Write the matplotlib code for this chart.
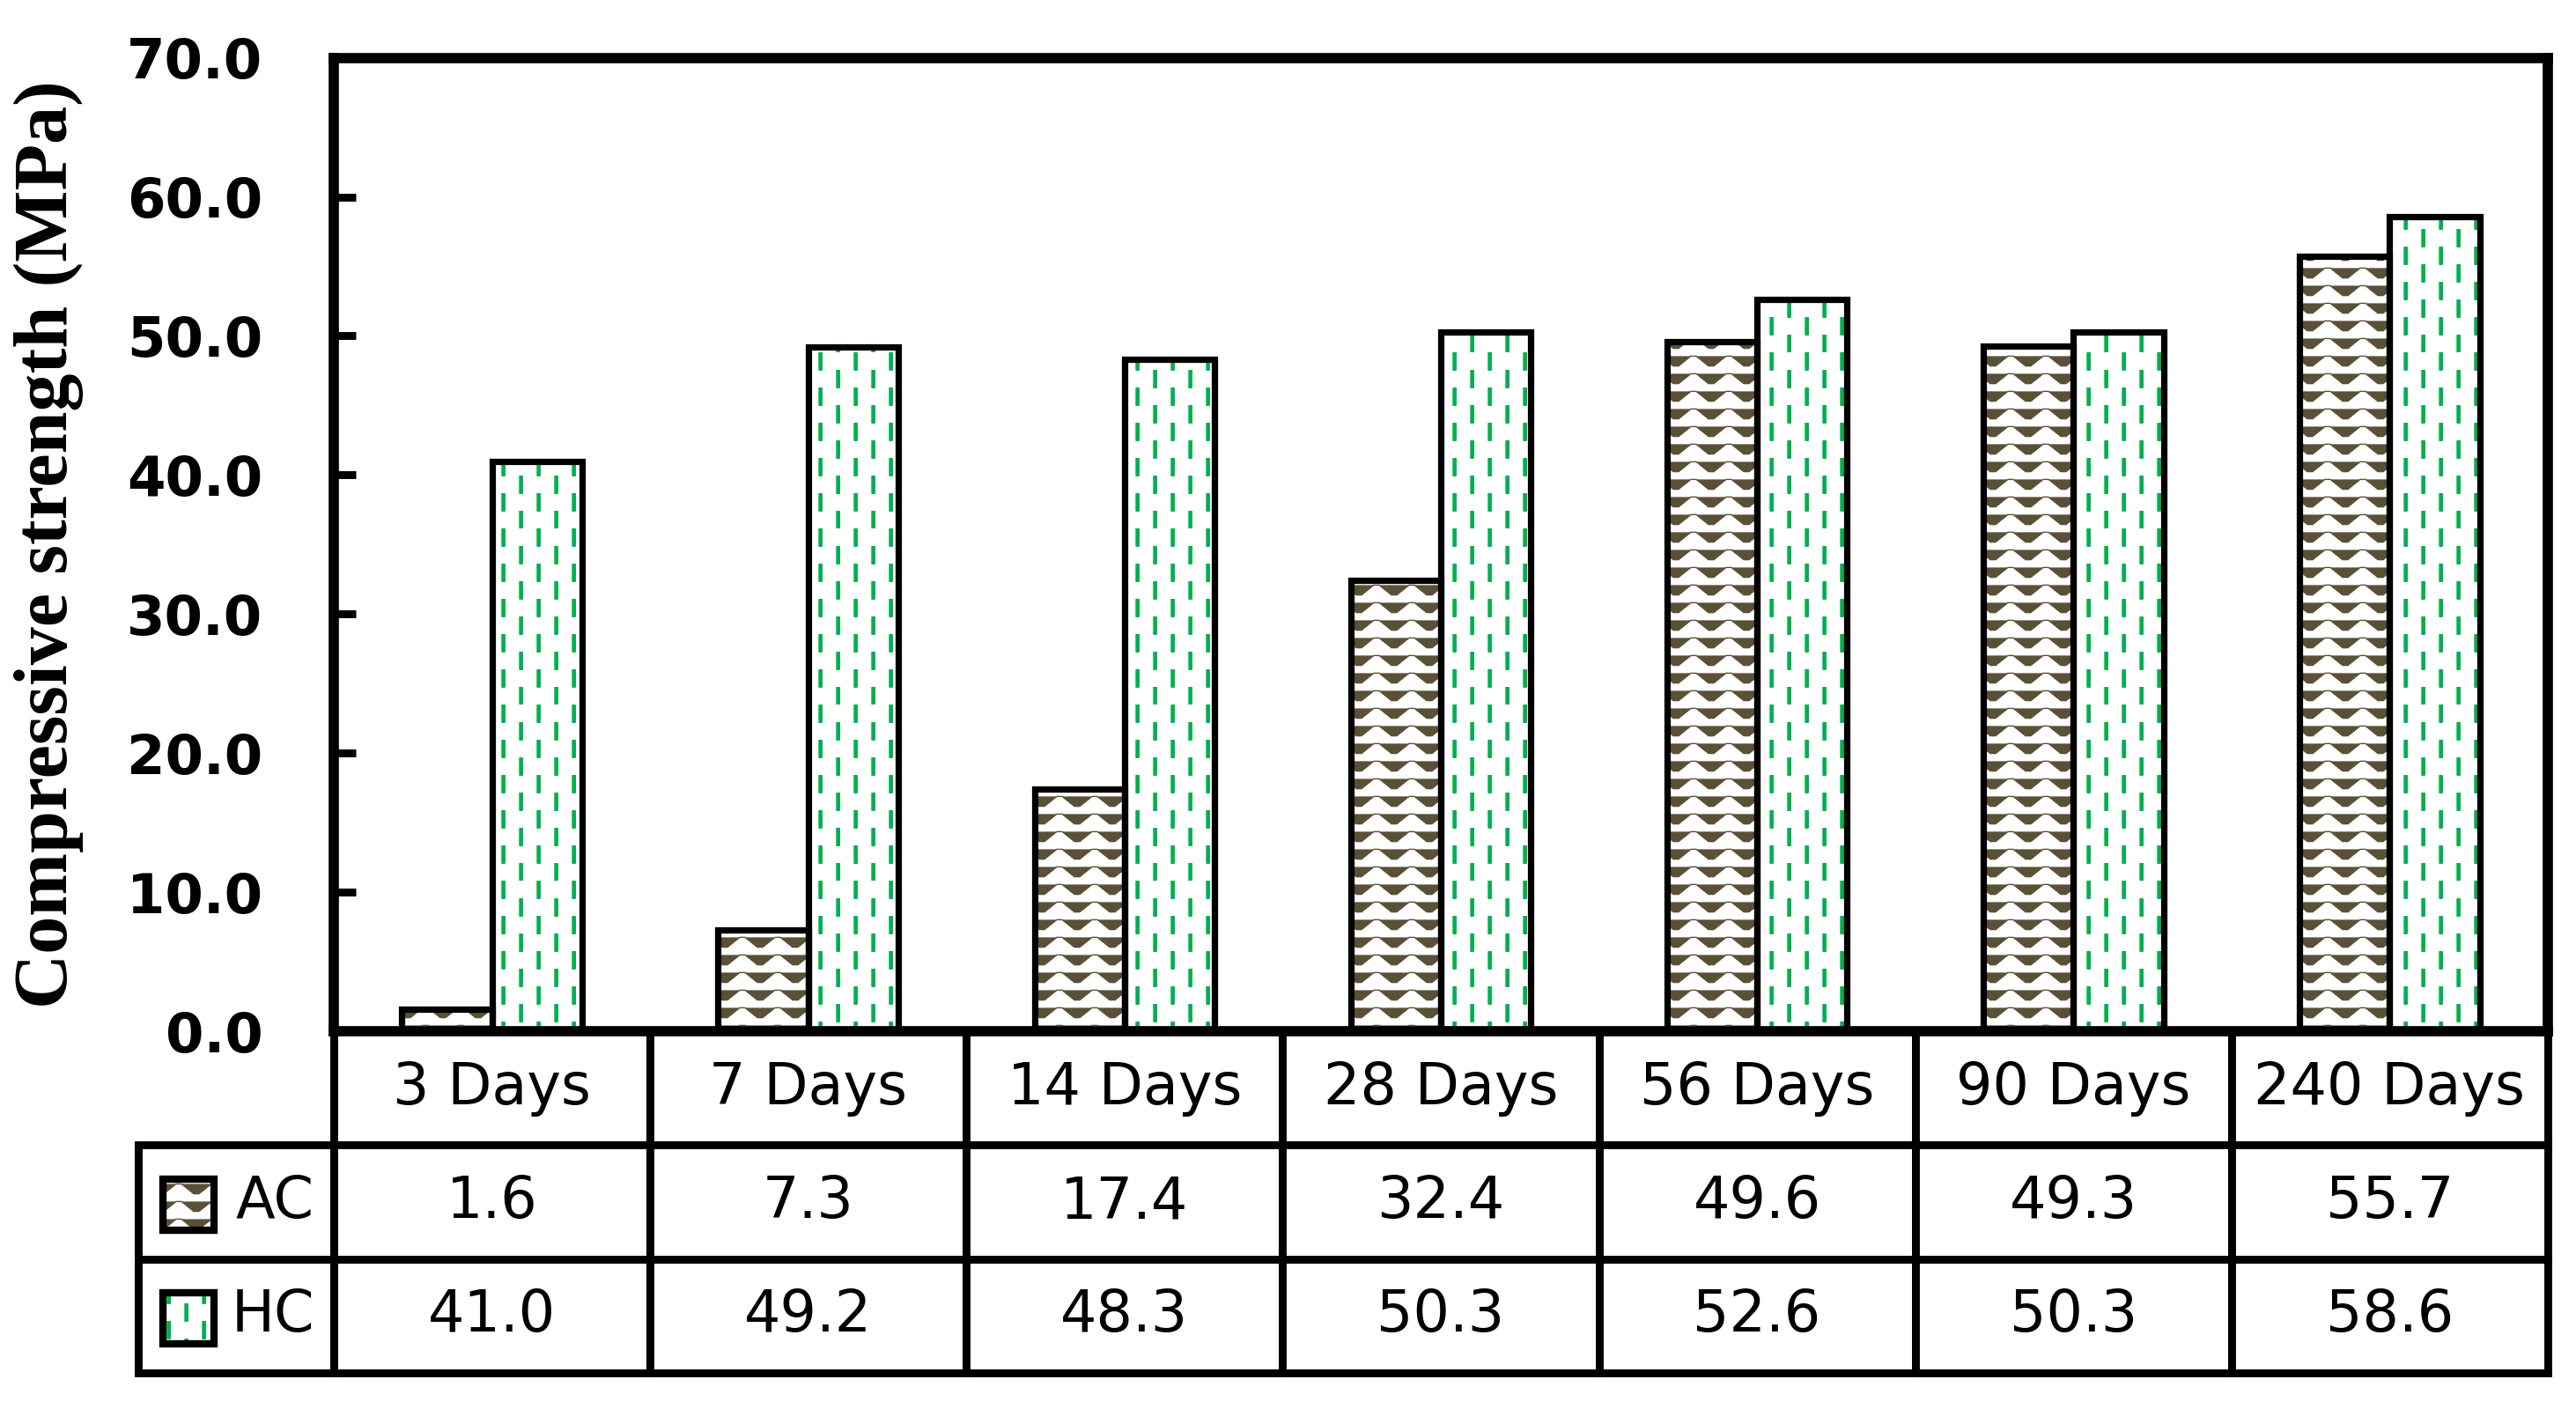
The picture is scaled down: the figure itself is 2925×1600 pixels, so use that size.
"""Compressive strength of AC and HC mixes with a data table under the bars"""
import warnings
import numpy as np
import matplotlib
matplotlib.use('Agg')
import matplotlib.pyplot as plt
import matplotlib.hatch as mhatch
from matplotlib.path import Path
from matplotlib.patches import Rectangle

warnings.filterwarnings('ignore')

categories = ['3 Days', '7 Days', '14 Days', '28 Days', '56 Days', '90 Days', '240 Days']
series_names = ['AC', 'HC']
ac_values = [1.6, 7.3, 17.4, 32.4, 49.6, 49.3, 55.7]
hc_values = [41.0, 49.2, 48.3, 50.3, 52.6, 50.3, 58.6]
yticks = [0, 10, 20, 30, 40, 50, 60, 70]

AC_COLOR = '#5a5038'
HC_COLOR = '#00b050'


class WaveHatch(mhatch.HatchPatternBase):
    """rows of small waves (AC)"""
    def __init__(self, hatch, density):
        self.rows = hatch.count('~') * 10
        self.periods = 5
        self.num_vertices = self.rows * (self.periods * 4 + 1)

    def set_vertices_and_codes(self, vertices, codes):
        n = self.periods * 4 + 1
        frac = np.array([0.0, 0.15, 0.5, 0.65])
        xs = np.concatenate([(p + frac) / self.periods for p in range(self.periods)] + [[1.0]])
        amp = 0.028
        shape = np.array([1, 1, -1, -1] * self.periods + [1], dtype=float)
        for i in range(self.rows):
            y = (i + 0.5) / self.rows
            vertices[i * n:(i + 1) * n, 0] = xs
            vertices[i * n:(i + 1) * n, 1] = y + amp * shape
            codes[i * n] = Path.MOVETO
            codes[i * n + 1:(i + 1) * n] = Path.LINETO


class DashHatch(mhatch.HatchPatternBase):
    """vertical dashed lines, every other column shifted (HC)"""
    def __init__(self, hatch, density):
        self.cols = hatch.count('!') * 10
        self.dashes = 5
        self.thick = 5  # parallel strokes per dash to make it heavier
        self.num_vertices = self.cols * (self.dashes + 1) * 2 * self.thick

    def set_vertices_and_codes(self, vertices, codes):
        k = 0
        step = 1.0 / self.dashes
        for c in range(self.cols):
            x = (c + 0.5) / self.cols
            off = 0.0 if c % 2 == 0 else step / 2
            for d in range(self.dashes + 1):
                y0 = d * step + off - step / 2
                y1 = y0 + step * 0.48
                y0, y1 = max(y0, 0.0), min(max(y1, 0.0), 1.0)
                for t in range(self.thick):
                    xx = x + t * 0.004
                    vertices[k] = (xx, y0)
                    vertices[k + 1] = (xx, y1)
                    codes[k] = Path.MOVETO
                    codes[k + 1] = Path.LINETO
                    k += 2


mhatch._hatch_types.append(WaveHatch)
mhatch._hatch_types.append(DashHatch)

plt.rcParams['hatch.linewidth'] = 0.5

fig = plt.figure(figsize=(14.625, 8), dpi=200)
ax = fig.add_axes([0.1296, 0.268, 0.8594, 0.691])

x = np.arange(len(categories))
width = 0.285

# hatched fill first, then the black outline on top
ax.bar(x - width / 2, ac_values, width, facecolor='white', edgecolor=AC_COLOR,
       linewidth=0, hatch='~')
ax.bar(x + width / 2, hc_values, width, facecolor='white', edgecolor=HC_COLOR,
       linewidth=0, hatch='!')
ax.bar(x - width / 2, ac_values, width, fill=False, edgecolor='black', linewidth=2.6)
ax.bar(x + width / 2, hc_values, width, fill=False, edgecolor='black', linewidth=2.6)

ax.set_xlim(-0.5, len(categories) - 0.5)
ax.set_ylim(0, 70)
ax.set_yticks(yticks)
ax.set_yticklabels(['%.1f' % v for v in yticks], fontsize=22.5, fontweight='bold')
ax.set_xticks([])
ax.tick_params(axis='y', direction='in', length=9, width=3.2, pad=29)
for sp in ax.spines.values():
    sp.set_linewidth(4.2)

ax.set_ylabel('Compressive strength (MPa)', fontsize=31, fontweight='bold',
              family='Liberation Serif')
ax.yaxis.set_label_coords(-0.113, 0.5)

# data table under the axes; bbox covers the data grid, row labels sit left of it
cell_text = [['%.1f' % v for v in ac_values], ['%.1f' % v for v in hc_values]]
lab_w = 0.0883
tab_h = 0.3508
table = ax.table(cellText=cell_text, rowLabels=series_names, colLabels=categories,
                 cellLoc='center', rowLoc='right',
                 colWidths=[1.0 / len(categories)] * len(categories),
                 bbox=[0, -tab_h, 1, tab_h])
table._autoColumns = []
table.auto_set_font_size(False)
table.set_fontsize(23.5)
for (r, c), cell in table.get_celld().items():
    cell.set_linewidth(3.2)
    cell.set_edgecolor('black')
    if c == -1:
        cell.set_width(lab_w)
        cell.PAD = 0.1

# legend keys inside the row label cells
key_w, key_h = 0.0231, 0.0524
for row_y, hcol, hpat in [(-0.178, AC_COLOR, '~'), (-0.295, HC_COLOR, '!')]:
    ax.add_patch(Rectangle((-0.0772, row_y - key_h / 2), key_w, key_h,
                           transform=ax.transAxes, clip_on=False,
                           facecolor='white', edgecolor=hcol, linewidth=0, hatch=hpat))
    ax.add_patch(Rectangle((-0.0772, row_y - key_h / 2), key_w, key_h,
                           transform=ax.transAxes, clip_on=False,
                           fill=False, edgecolor='black', linewidth=3))

plt.savefig('out.png', dpi=200)
